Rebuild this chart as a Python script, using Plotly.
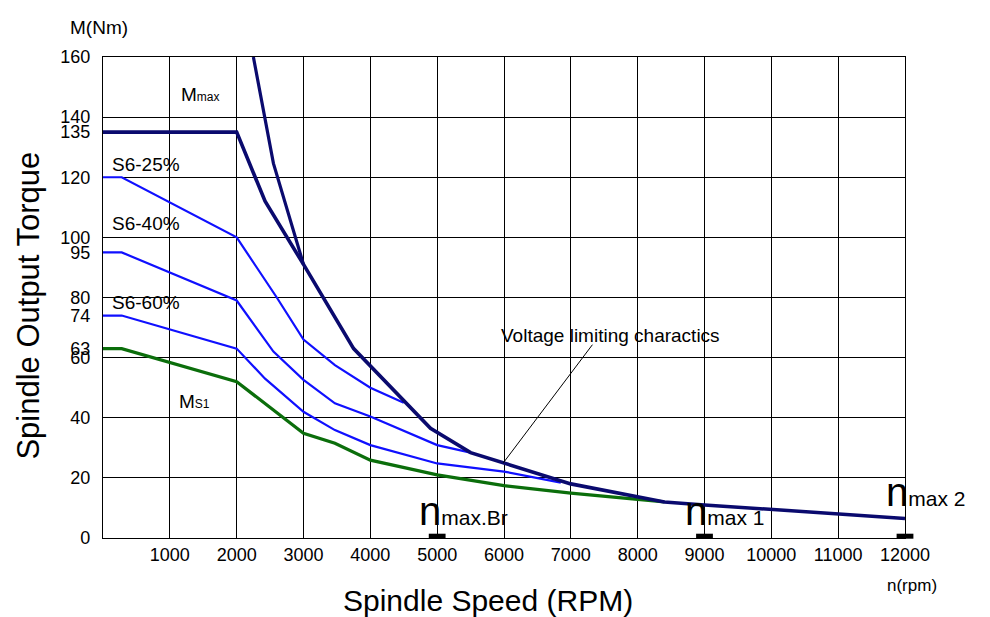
import plotly.graph_objects as go

# ---- data ----
mmax_x = [0, 2000, 2425, 3000, 3750, 4900, 5500, 6000, 7000, 8400, 9000, 12000]
mmax_y = [135, 135, 112, 91, 63, 36.5, 28.4, 25, 18, 12, 11, 6.5]

volt_x = [2250, 2550, 3000]
volt_y = [160, 124.6, 91]

s625_x = [0, 280, 2000, 2600, 3000, 3470, 4000, 4500]
s625_y = [120, 120, 100, 80, 66, 57.5, 50, 45]

s640_x = [0, 280, 2000, 2550, 3000, 3470, 4000, 5000, 5500]
s640_y = [95, 95, 79, 62, 52.6, 44.8, 40.4, 30.9, 28.4]

s660_x = [0, 280, 2000, 2425, 3000, 3470, 4000, 5000, 6000, 6850]
s660_y = [74, 74, 63, 53, 42, 35.9, 30.9, 24.8, 22.1, 18.4]

ms1_x = [0, 280, 2000, 2600, 3000, 3470, 4000, 5000, 6000, 7000, 8000, 8400]
ms1_y = [63, 63, 52, 41.5, 34.8, 31.5, 25.9, 21.0, 17.4, 14.9, 13.0, 12]

nmax_x = [5000, 9000, 12000]
nmax_y = [0.6, 0.6, 0.6]

x_ticks = list(range(1000, 13000, 1000))
y_labels = [0, 20, 40, 60, 63, 74, 80, 95, 100, 120, 135, 140, 160]
y_grid = list(range(0, 180, 20))

FONT = "Liberation Sans, Arial, sans-serif"
NAVY = "#0a0a6e"
BLUE = "#1010ff"
GREEN = "#0b6e0b"

fig = go.Figure()
fig.add_trace(go.Scatter(x=ms1_x, y=ms1_y, mode="lines", line=dict(color=GREEN, width=3.2), showlegend=False))
fig.add_trace(go.Scatter(x=s660_x, y=s660_y, mode="lines", line=dict(color=BLUE, width=2.2), showlegend=False))
fig.add_trace(go.Scatter(x=s640_x, y=s640_y, mode="lines", line=dict(color=BLUE, width=2.2), showlegend=False))
fig.add_trace(go.Scatter(x=s625_x, y=s625_y, mode="lines", line=dict(color=BLUE, width=2.2), showlegend=False))
fig.add_trace(go.Scatter(x=volt_x, y=volt_y, mode="lines", line=dict(color=NAVY, width=3.2), showlegend=False))
fig.add_trace(go.Scatter(x=mmax_x, y=mmax_y, mode="lines", line=dict(color=NAVY, width=3.6), showlegend=False))
fig.add_trace(go.Scatter(x=nmax_x, y=nmax_y, mode="markers", cliponaxis=False,
                         marker=dict(symbol="line-ew", size=12, line=dict(color="black", width=5)),
                         showlegend=False))
# dummy trace for the grid axis
fig.add_trace(go.Scatter(x=[None], y=[None], yaxis="y2", showlegend=False, hoverinfo="skip"))

fig.update_layout(
    width=990, height=617,
    margin=dict(l=103, r=85, t=57, b=79),
    paper_bgcolor="white", plot_bgcolor="white",
    font=dict(family=FONT, size=19, color="black"),
    xaxis=dict(range=[0, 12000], tickvals=x_ticks, ticktext=[str(v) for v in x_ticks],
               showgrid=True, gridcolor="black", gridwidth=1.2, zeroline=False,
               showline=True, linecolor="black", linewidth=1.2, mirror=True, ticks="",
               tickfont=dict(size=18), automargin=False),
    yaxis=dict(range=[0, 160], tickvals=y_labels, ticktext=[str(v) for v in y_labels],
               showgrid=False, zeroline=False, showline=True, linecolor="black",
               linewidth=1.2, mirror=True, ticks="", tickfont=dict(size=18), automargin=False,
               ticklabelstandoff=8),
    yaxis2=dict(range=[0, 160], overlaying="y", tickvals=y_grid, showticklabels=False,
                showgrid=True, gridcolor="black", gridwidth=1.2, zeroline=False, ticks=""),
)

ann = []
def t(x, y, text, size=19, xanchor="left", yanchor="middle", xref="x", yref="y", **kw):
    ann.append(dict(x=x, y=y, text=text, showarrow=False, xref=xref, yref=yref,
                    xanchor=xanchor, yanchor=yanchor, font=dict(size=size, family=FONT), **kw))

t(1130, 147.5, "M<span style='font-size:12px'>max</span>")
t(1110, 45.5, "M<span style='font-size:12px'>S1</span>")
t(100, 124.2, "S6-25%")
t(100, 104.5, "S6-40%")
t(100, 78.3, "S6-60%")
t(5930, 67.5, "Voltage limiting charactics")
ann.append(dict(x=5990, y=25.0, ax=7340, ay=64.8, xref="x", yref="y", axref="x", ayref="y",
                text="", showarrow=True, arrowhead=0, arrowwidth=1, arrowcolor="black"))
t(4700, 0.9, "n<span style='font-size:21px'>max.Br</span>", size=40, yanchor="bottom")
t(8680, 0.9, "n<span style='font-size:21px'>max 1</span>", size=40, yanchor="bottom")
t(11690, 7.2, "n<span style='font-size:21px'>max 2</span>", size=40, yanchor="bottom")

t(-0.044, 1.062, "M(Nm)", xref="paper", yref="paper")
t(0.975, -0.098, "n(rpm)", size=17, xref="paper", yref="paper")
t(-0.093, 0.484, "Spindle Output Torque", size=31, xanchor="center", xref="paper", yref="paper", textangle=-90)
t(0.48, -0.129, "Spindle Speed (RPM)", size=30, xanchor="center", xref="paper", yref="paper")

fig.update_layout(annotations=ann)
fig.write_html("out.html", config={"displayModeBar": False},
               post_script="document.body.style.margin='0';document.body.style.overflow='hidden';")
